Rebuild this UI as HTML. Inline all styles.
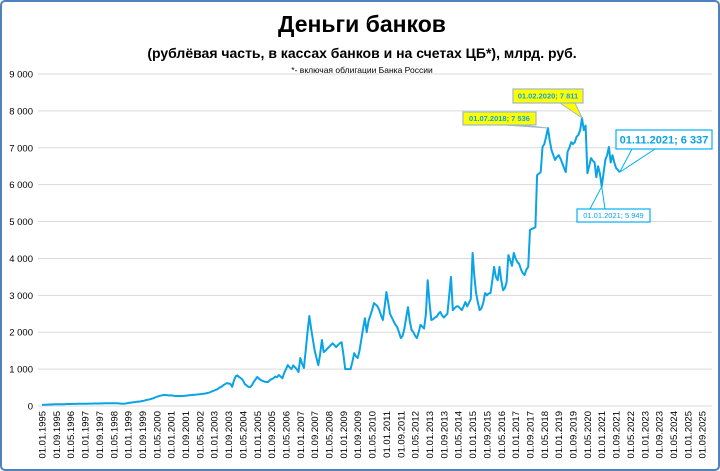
<!DOCTYPE html>
<html><head><meta charset="utf-8"><style>
body{margin:0;background:#fff;}
svg{display:block;font-family:"Liberation Sans",sans-serif;}
</style></head><body>
<svg id="chart" width="720" height="471" viewBox="0 0 720 471">
<rect x="1" y="1" width="718" height="469" rx="4" fill="#fff" stroke="#4f81bd" stroke-width="2"/>
<text x="362" y="32" text-anchor="middle" font-size="23" font-weight="bold">Деньги банков</text>
<text x="362" y="58" text-anchor="middle" font-size="14" font-weight="bold">(рублёвая часть, в кассах банков и на счетах ЦБ*), млрд. руб.</text>
<text x="362" y="73" text-anchor="middle" font-size="8.5">*- включая облигации  Банка России</text>
<g id="grid"></g><g id="yticks"></g><g id="xticks"></g>
<path id="line" fill="none" stroke="#0aa3e6" stroke-width="2" stroke-linejoin="round"/>
<g id="annot"></g>
</svg>
<script>
const yTicks=[0,1000,2000,3000,4000,5000,6000,7000,8000,9000];
const yTickLabels=["0","1 000","2 000","3 000","4 000","5 000","6 000","7 000","8 000","9 000"];
const startYear=1995;
const values=[
30,32,35,38,40,42,44,45,46,48,50,50,
50,52,53,54,55,56,57,58,59,60,60,62,
62,63,64,65,66,67,68,68,69,70,70,72,
72,72,73,73,74,74,75,70,65,60,62,70,
80,88,95,100,108,115,120,125,135,145,160,170,
180,195,210,230,250,265,280,290,300,295,290,285,
290,280,275,270,272,268,270,275,280,285,290,295,
300,305,310,315,320,325,330,340,350,360,380,400,
420,440,460,500,520,560,590,620,610,600,520,700,
810,830,780,750,700,600,560,520,510,560,650,720,
790,740,700,680,660,650,650,700,730,750,800,780,
840,800,750,900,1000,1110,1050,1000,1100,1050,1000,920,
1300,1150,1030,1500,2000,2440,2100,1800,1500,1300,1110,1400,
1790,1460,1500,1550,1600,1650,1700,1650,1600,1650,1700,1730,
1400,1000,1000,1000,1000,1200,1430,1350,1300,1500,1800,2100,
2380,2000,2300,2450,2600,2790,2750,2700,2600,2450,2330,2700,
3090,2800,2500,2400,2300,2200,2140,2000,1840,1900,2100,2400,
2680,2300,2060,2000,1900,1840,2000,2200,2150,2100,2500,3410,
2800,2330,2350,2400,2420,2500,2550,2450,2400,2450,2500,3000,
3500,2600,2650,2700,2700,2650,2600,2700,2820,2700,2800,2900,
4150,3500,3060,2800,2600,2650,2800,3060,3000,3050,3060,3400,
3770,3500,3410,3770,3400,3140,3200,3360,4090,3950,3800,4150,
4000,3900,3850,3700,3600,3550,3700,3770,4770,4800,4820,4850,
6260,6300,6340,7020,7100,7300,7536,7200,6940,6800,6670,6750,
6800,6700,6580,6450,6340,6900,7000,7150,7100,7150,7300,7350,
7480,7811,7480,7600,6310,6500,6720,6650,6600,6200,6500,6300,
5949,6300,6670,6800,7020,6600,6800,6600,6450,6400,6337];
const annLabels=["01.07.2018; 7 536","01.02.2020; 7 811","01.01.2021; 5 949","01.11.2021; 6 337"];
const annMonths=[282,301,312,322];

const NS="http://www.w3.org/2000/svg";
const X0=42,DX=1.794,Y0=406,Y1=74,YMAX=9000;
function xs(m){return X0+m*DX;}
function ys(v){return Y0-(v/YMAX)*(Y0-Y1);}
function mk(tag,attrs,parent){const e=document.createElementNS(NS,tag);for(const k in attrs)e.setAttribute(k,attrs[k]);parent.appendChild(e);return e;}

const grid=document.getElementById('grid'),yt=document.getElementById('yticks'),xt=document.getElementById('xticks');
yTicks.forEach((v,i)=>{
  const l=mk('line',{x1:38,x2:712,y1:ys(v),y2:ys(v),stroke:'#d9d9d9','stroke-width':1},grid);
  
  
  const t=mk('text',{x:33,y:ys(v)+3.5,'text-anchor':'end','font-size':9.5},yt);
  t.textContent=yTickLabels[i];
  
  
});
for(let m=0;m<=368;m+=8){
  const y=startYear+Math.floor(m/12),mo=m%12+1;
  const lab='01.'+(mo<10?'0':'')+mo+'.'+y;
  const x=xs(m)+3.5;
  const t=mk('text',{x:0,y:0,'text-anchor':'end','font-size':9.5,transform:'translate('+x+',411) rotate(-90)'},xt);
  t.textContent=lab;
  
  
}
document.getElementById('line').setAttribute('d',values.map((v,i)=>(i?'L':'M')+xs(i).toFixed(1)+','+ys(v).toFixed(1)).join(''));

const an=document.getElementById('annot');
const boxes=[
 {x:463,y:112,w:73,h:13,yellow:true,fs:7.5,ax:[505,520]},
 {x:513,y:89,w:70,h:14,yellow:true,fs:7.5,ax:[560,575]},
 {x:577,y:209,w:73,h:13,yellow:false,fs:7.5,ax:[590,605],top:true},
 {x:616,y:130,w:96,h:19,yellow:false,fs:11,ax:[632,655]}
];
boxes.forEach((b,i)=>{
  const m=annMonths[i],px=xs(m),py=ys(values[m]);
  const g=mk('g',{},an);
  
  
  const col=b.yellow?'#ffff00':'#fff',stroke=b.yellow?'#9fb8c8':'#00b0f0';
  const ey=b.top?b.y:b.y+b.h;
  mk('path',{d:'M'+b.ax[0]+','+ey+'L'+px+','+py+'L'+b.ax[1]+','+ey,fill:col,stroke:stroke,'stroke-width':1},g);
  mk('rect',{x:b.x,y:b.y,width:b.w,height:b.h,fill:col,stroke:stroke,'stroke-width':1.2},g);
  const t=mk('text',{x:b.x+b.w/2,y:b.y+b.h/2+b.fs*0.36,'text-anchor':'middle','font-size':b.fs,'font-weight':b.yellow?'bold':(b.fs>10?'600':'normal'),fill:'#0aa3e6'},g);
  t.textContent=annLabels[i];
});
</script>
</body></html>
